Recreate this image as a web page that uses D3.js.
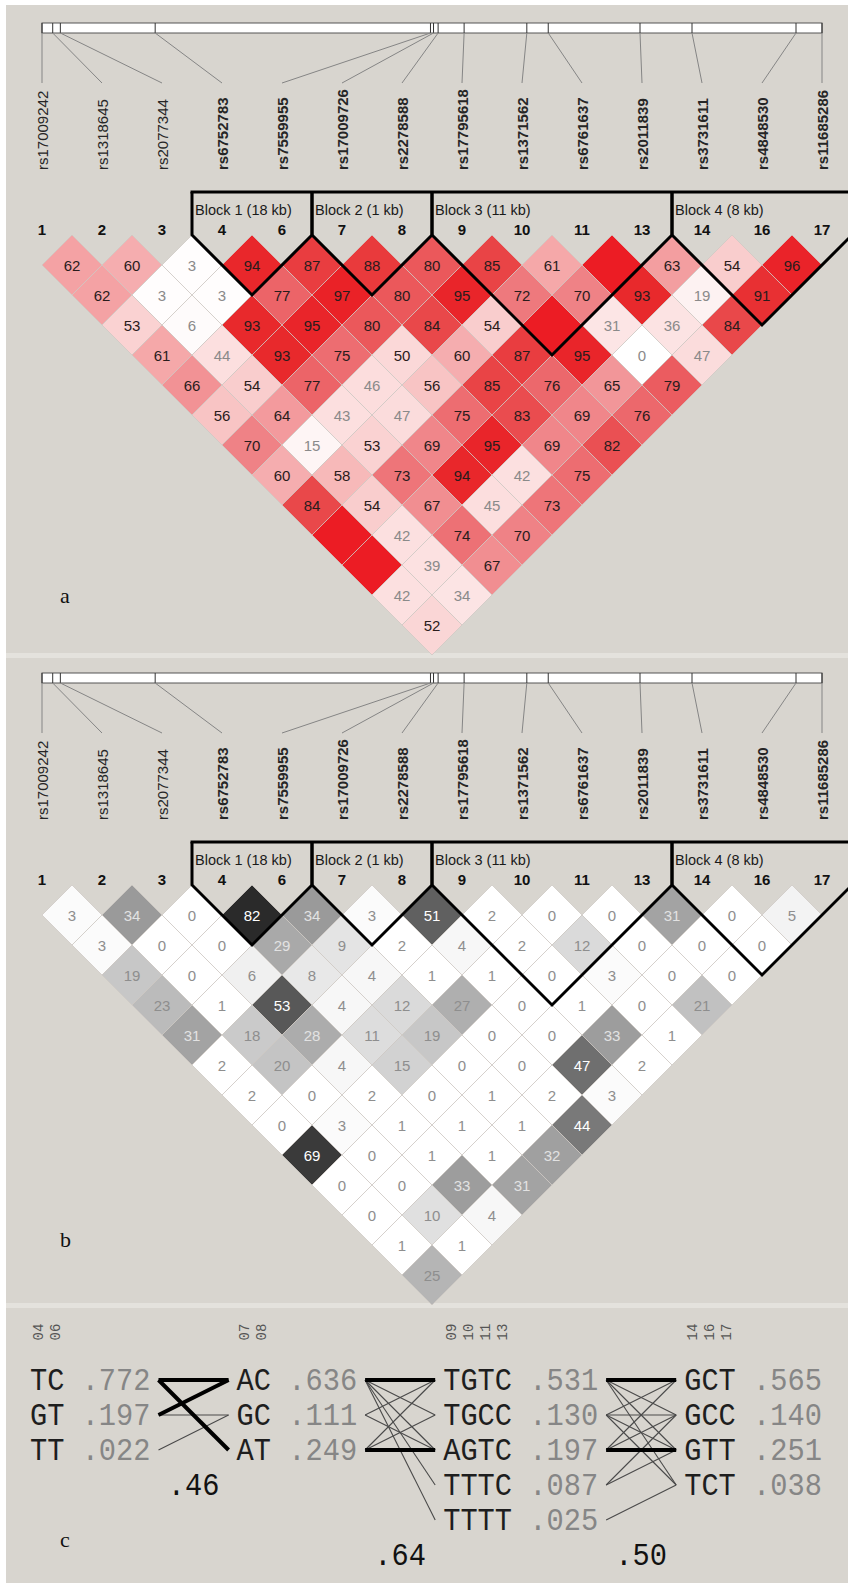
<!DOCTYPE html>
<html>
<head>
<meta charset="utf-8">
<script src="https://cdn.jsdelivr.net/npm/d3@7"></script>
<style>
  html, body { margin: 0; padding: 0; background: #ffffff; }
  svg { display: block; }
</style>
</head>
<body>
<svg id="chart" width="848" height="1583"></svg>
<script>
// ---- marker data ----
const markerNumbers = ["1","2","3","4","6","7","8","9","10","11","13","14","16","17"];
const snpNames = ["rs17009242","rs1318645","rs2077344","rs6752783","rs7559955","rs17009726","rs2278588",
                  "rs17795618","rs1371562","rs6761637","rs2011839","rs3731611","rs4848530","rs11685286"];
const snpPositionsKb = [0, 0.7, 1.2, 7.4, 25.4, 25.6, 25.9, 27.6, 31.7, 33.1, 39.1, 42.5, 49.3, 51.0];

// haplotype blocks (marker indices, inclusive)
const blockFirst  = [3, 5, 7, 11];
const blockLast   = [4, 6, 10, 13];
const blockLabels = ["Block 1 (18 kb)", "Block 2 (1 kb)", "Block 3 (11 kb)", "Block 4 (8 kb)"];

// pairwise D' (x100), one array per marker distance (1..13); 100 = complete LD (unlabelled)
const dPrimeRows = [
  [62, 60, 3, 94, 87, 88, 80, 85, 61, 100, 63, 54, 96],
  [62, 3, 3, 77, 97, 80, 95, 72, 70, 93, 19, 91],
  [53, 6, 93, 95, 80, 84, 54, 100, 31, 36, 84],
  [61, 44, 93, 75, 50, 60, 87, 95, 0, 47],
  [66, 54, 77, 46, 56, 85, 76, 65, 79],
  [56, 64, 43, 47, 75, 83, 69, 76],
  [70, 15, 53, 69, 95, 69, 82],
  [60, 58, 73, 94, 42, 75],
  [84, 54, 67, 45, 73],
  [100, 42, 74, 70],
  [100, 39, 67],
  [42, 34],
  [52]
];

// pairwise r-squared (x100), same layout
const r2Rows = [
  [3, 34, 0, 82, 34, 3, 51, 2, 0, 0, 31, 0, 5],
  [3, 0, 0, 29, 9, 2, 4, 2, 12, 0, 0, 0],
  [19, 0, 6, 8, 4, 1, 1, 0, 3, 0, 0],
  [23, 1, 53, 4, 12, 27, 0, 1, 0, 21],
  [31, 18, 28, 11, 19, 0, 0, 33, 1],
  [2, 20, 4, 15, 0, 0, 47, 2],
  [2, 0, 2, 0, 1, 2, 3],
  [0, 3, 1, 1, 1, 44],
  [69, 0, 1, 1, 32],
  [0, 0, 33, 31],
  [0, 10, 4],
  [1, 1],
  [25]
];

// haplotypes per block
const hapMarkers = [["04","06"], ["07","08"], ["09","10","11","13"], ["14","16","17"]];
const hapAlleles = [["TC","GT","TT"], ["AC","GC","AT"], ["TGTC","TGCC","AGTC","TTTC","TTTT"], ["GCT","GCC","GTT","TCT"]];
const hapFreqs   = [[0.772, 0.197, 0.022], [0.636, 0.111, 0.249], [0.531, 0.130, 0.197, 0.087, 0.025], [0.565, 0.140, 0.251, 0.038]];
const multiDPrime = [0.46, 0.64, 0.50];
// crossings between neighbouring blocks: [from haplotype, to haplotype, strong]
const hapLinks = [
  [[0,0,1],[0,2,1],[1,0,1],[1,1,0],[2,1,0]],
  [[0,0,1],[2,2,1],[0,1,0],[0,2,0],[0,3,0],[0,4,0],[1,0,0],[1,2,0],[2,0,0],[2,1,0]],
  [[0,0,1],[2,2,1],[0,1,0],[0,2,0],[0,3,0],[1,0,0],[1,1,0],[1,2,0],[1,3,0],[2,0,0],[2,1,0],[3,1,0],[3,2,0],[4,3,0]]
];

// ---- drawing ----
const W = 848, H = 1583;
const svg = d3.select("#chart");
const sans = "'Liberation Sans', Arial, Helvetica, sans-serif";
const mono = "'Liberation Mono', 'DejaVu Sans Mono', monospace";
const serif = "'Liberation Serif', 'Times New Roman', serif";
const bg = "#d8d5cf";

// page frame: panels on a light ground
svg.append("rect").attr("x", 0).attr("y", 0).attr("width", W).attr("height", H).attr("fill", "#ffffff");
svg.append("rect").attr("x", 6).attr("y", 5).attr("width", W - 6).attr("height", 648).attr("fill", bg);
svg.append("rect").attr("x", 6).attr("y", 653).attr("width", W - 6).attr("height", 5).attr("fill", "#e4e2dd");
svg.append("rect").attr("x", 6).attr("y", 658).attr("width", W - 6).attr("height", 645).attr("fill", bg);
svg.append("rect").attr("x", 6).attr("y", 1303).attr("width", W - 6).attr("height", 5).attr("fill", "#e4e2dd");
svg.append("rect").attr("x", 6).attr("y", 1308).attr("width", W - 6).attr("height", H - 1308).attr("fill", bg);

const nM = markerNumbers.length;
const colX = d3.scaleLinear().domain([0, nM - 1]).range([42, 822]);
const step = colX(1) - colX(0);
const half = step / 2;
const physX = d3.scaleLinear()
  .domain([snpPositionsKb[0], snpPositionsKb[nM - 1]])
  .range([42, 822]);

const inBlock = i => blockFirst.some((f, k) => i >= f && i <= blockLast[k]);

const dPrimeFill = d3.scaleLinear()
  .domain([0, 20, 30, 45, 52, 56, 62, 70, 77, 85, 93, 100])
  .range(["#ffffff","#fdf1f1","#fce6e6","#fcdede","#fad6d6","#f8c4c4","#f4a2a4","#ef8286","#ec6468","#e94446","#e8292c","#ec1c24"])
  .clamp(true);
const r2Level = d3.scaleLinear()
  .domain([0, 2, 10, 20, 34, 45, 53, 69, 82, 100])
  .range([255, 255, 224, 196, 154, 118, 88, 58, 42, 20])
  .clamp(true);

const panels = [
  { oy: 0,   rows: dPrimeRows, fill: v => dPrimeFill(v),
    text: v => v >= 50 ? "#2a1c1c" : "#8a8a8a", showFull: false },
  { oy: 650, rows: r2Rows, fill: v => { const g = Math.round(r2Level(v)); return d3.rgb(g, g, g).formatHex(); },
    text: v => v >= 44 ? "#ffffff" : (v >= 28 ? "#e2e2e2" : "#8e8e8e"), showFull: true }
];

panels.forEach(p => {
  const g = svg.append("g").attr("transform", `translate(0,${p.oy})`);

  // physical map bar
  g.append("rect").attr("x", physX(snpPositionsKb[0])).attr("y", 23)
    .attr("width", physX(snpPositionsKb[nM - 1]) - physX(snpPositionsKb[0])).attr("height", 10)
    .attr("fill", "#ffffff").attr("stroke", "#555").attr("stroke-width", 1);
  g.selectAll("line.tick").data(snpPositionsKb).enter().append("line")
    .attr("x1", d => physX(d)).attr("x2", d => physX(d)).attr("y1", 23).attr("y2", 33)
    .attr("stroke", "#333").attr("stroke-width", 1);
  g.selectAll("line.conn").data(snpPositionsKb).enter().append("line")
    .attr("x1", d => physX(d)).attr("y1", 33).attr("x2", (d, i) => colX(i)).attr("y2", 83)
    .attr("stroke", "#858585").attr("stroke-width", 1);

  // marker names
  g.selectAll("text.snp").data(snpNames).enter().append("text")
    .attr("transform", (d, i) => `translate(${colX(i)},170) rotate(-90)`)
    .attr("text-anchor", "start").attr("dominant-baseline", "central")
    .attr("font-family", sans).attr("font-size", 15)
    .attr("font-weight", (d, i) => inBlock(i) ? "bold" : "normal")
    .attr("fill", "#262626").text(d => d);

  // marker numbers
  g.selectAll("text.num").data(markerNumbers).enter().append("text")
    .attr("x", (d, i) => colX(i)).attr("y", 234.5)
    .attr("text-anchor", "middle").attr("font-family", sans).attr("font-size", 15)
    .attr("font-weight", "bold").attr("fill", "#111").text(d => d);

  // LD diamonds
  const cells = [];
  p.rows.forEach((row, r) => {
    const d = r + 1;
    row.forEach((v, i) => {
      const j = i + d;
      cells.push({ v, cx: (colX(i) + colX(j)) / 2, cy: 265 + r * half });
    });
  });
  const cg = g.append("g");
  cg.selectAll("path").data(cells).enter().append("path")
    .attr("d", c => `M${c.cx},${c.cy - half}L${c.cx + half},${c.cy}L${c.cx},${c.cy + half}L${c.cx - half},${c.cy}Z`)
    .attr("fill", c => p.fill(c.v))
    .attr("stroke", "rgba(205,200,195,0.75)").attr("stroke-width", 1);
  cg.selectAll("text").data(cells.filter(c => p.showFull || c.v < 100)).enter().append("text")
    .attr("x", c => c.cx).attr("y", c => c.cy)
    .attr("text-anchor", "middle").attr("dominant-baseline", "central")
    .attr("font-family", sans).attr("font-size", 15)
    .attr("fill", c => p.text(c.v)).text(c => c.v);

  // block outlines
  const topY = 192, vTop = 265 - half;
  const bg2 = g.append("g");
  blockFirst.forEach((f, k) => {
    const l = blockLast[k];
    const xl = colX(f) - half, xr = colX(l) + half;
    const xm = (colX(f) + colX(l)) / 2, yb = 265 + (l - f) * half;
    bg2.append("path")
      .attr("d", `M${xl},${topY}L${xl},${vTop}L${xm},${yb}L${xr},${vTop}L${xr},${topY}`)
      .attr("fill", "none").attr("stroke", "#000").attr("stroke-width", 3)
      .attr("stroke-linejoin", "miter");
    bg2.append("text").attr("x", xl + 3).attr("y", 214.5)
      .attr("font-family", sans).attr("font-size", 14.5).attr("fill", "#1a1a1a")
      .text(blockLabels[k]);
  });
  bg2.append("line")
    .attr("x1", colX(blockFirst[0]) - half - 1.5).attr("x2", colX(blockLast[blockLast.length - 1]) + half + 1.5)
    .attr("y1", topY).attr("y2", topY).attr("stroke", "#000").attr("stroke-width", 3);
});

// panel letters
[["a", 603], ["b", 1247], ["c", 1547]].forEach(([t, y]) => {
  svg.append("text").attr("x", 60).attr("y", y).attr("font-family", serif)
    .attr("font-size", 22).attr("fill", "#111").text(t);
});

// ---- haplotype panel ----
const hg = svg.append("g");
const fs = 28.7;
const stretchY = 1.1;
const probe = hg.append("text").attr("font-family", mono).attr("font-size", fs).text("0000000000");
const cw = probe.node().getComputedTextLength() / 10;
probe.remove();

const rowY0 = 1380, rowStep = 35;
const capHalf = fs * 0.66 * stretchY / 2;
const fmtFreq = d3.format(".3f"), fmtD = d3.format(".2f");
const strip0 = s => s.replace(/^0/, "");

const blockX = [];
let bx = 30;
hapAlleles.forEach((a, k) => {
  blockX.push(bx);
  const width = (a[0].length + 5) * cw;
  bx += width + 5 * cw;
});
const blockEnd = k => blockX[k] + (hapAlleles[k][0].length + 5) * cw;
const rowY = r => rowY0 + r * rowStep;

// mono text, slightly stretched vertically
function monoText(x, y, str, fill, anchor) {
  hg.append("text")
    .attr("transform", `translate(${x},${y}) scale(1,${stretchY})`)
    .attr("text-anchor", anchor || "start")
    .attr("font-family", mono).attr("font-size", fs).attr("fill", fill).text(str);
}

hapAlleles.forEach((alleles, k) => {
  const x0 = blockX[k];
  // marker numbers above allele columns
  hapMarkers[k].forEach((m, c) => {
    hg.append("text")
      .attr("transform", `translate(${x0 + c * cw + cw / 2},1332) rotate(-90)`)
      .attr("text-anchor", "middle").attr("dominant-baseline", "central")
      .attr("font-family", mono).attr("font-size", 14).attr("fill", "#555").text(m);
  });
  alleles.forEach((h, r) => {
    monoText(x0, rowY(r) + capHalf, h, "#1e1e1e");
    monoText(x0 + (h.length + 1) * cw, rowY(r) + capHalf, strip0(fmtFreq(hapFreqs[k][r])), "#868686");
  });
});

// crossing lines and multiallelic D'
hapLinks.forEach((links, k) => {
  const xa = blockEnd(k) + 8, xb = blockX[k + 1] - 8;
  const ordered = links.slice().sort((a, b) => a[2] - b[2]);
  hg.selectAll(null).data(ordered).enter().append("line")
    .attr("x1", xa).attr("y1", d => rowY(d[0]))
    .attr("x2", xb).attr("y2", d => rowY(d[1]))
    .attr("stroke", d => d[2] ? "#000" : "#4a4a4a")
    .attr("stroke-width", d => d[2] ? 4 : 1.1);
  const rowsBelow = Math.max(hapAlleles[k].length, hapAlleles[k + 1].length);
  monoText((blockEnd(k) + blockX[k + 1]) / 2, rowY(rowsBelow) + capHalf,
           strip0(fmtD(multiDPrime[k])), "#111", "middle");
});
</script>
</body>
</html>
